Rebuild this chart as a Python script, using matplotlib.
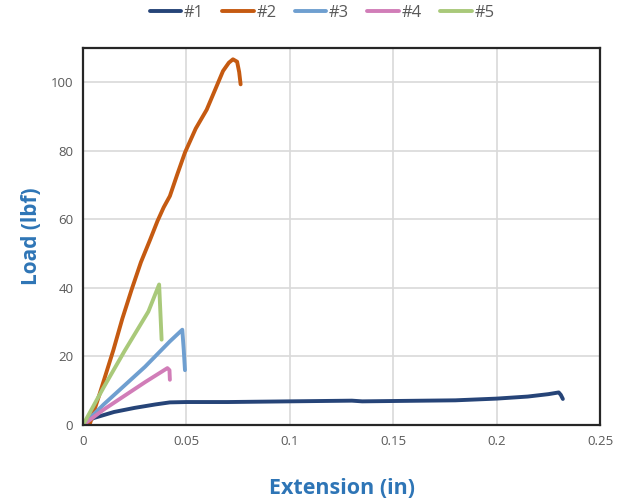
import matplotlib
matplotlib.use("Agg")
import matplotlib.pyplot as plt

names = ["#1", "#2", "#3", "#4", "#5"]
colors = ["#264478", "#C55A11", "#6F9FD0", "#D17DB8", "#A9C97A"]

x1 = [0.0, 0.005, 0.015, 0.025, 0.035, 0.042, 0.05, 0.07, 0.1, 0.13, 0.135, 0.15, 0.18, 0.2, 0.215, 0.225, 0.23, 0.231, 0.232]
y1 = [0.0, 2.0, 3.8, 5.0, 6.0, 6.6, 6.7, 6.7, 6.9, 7.1, 6.9, 7.0, 7.2, 7.7, 8.3, 9.0, 9.5, 8.8, 7.6]

x2 = [0.002, 0.0034, 0.008, 0.0147, 0.019, 0.0235, 0.028, 0.0324, 0.036, 0.039, 0.042, 0.0455, 0.0493, 0.0545, 0.0598, 0.064, 0.0677, 0.0705, 0.0725, 0.0745, 0.0755, 0.0762]
y2 = [0.0, 0.5, 9.0, 21.9, 31.0, 39.5, 47.5, 54.0, 59.5, 63.5, 66.8, 73.0, 79.5, 86.5, 92.0, 98.0, 103.3, 105.7, 106.7, 106.0, 103.0, 99.4]

x3 = [0.0, 0.01, 0.02, 0.03, 0.042, 0.048, 0.0487, 0.0493]
y3 = [0.0, 6.0, 11.5, 17.0, 24.4, 27.8, 22.0, 16.0]

x4 = [0.0, 0.01, 0.02, 0.03, 0.0408, 0.0418, 0.042]
y4 = [0.0, 4.5, 8.5, 12.5, 16.6, 16.0, 13.2]

x5 = [0.0, 0.01, 0.02, 0.0316, 0.0368, 0.0374, 0.038]
y5 = [0.0, 11.0, 21.5, 33.1, 41.0, 33.0, 24.9]

xs = [x1, x2, x3, x4, x5]
ys = [y1, y2, y3, y4, y5]

xticks = [0, 0.05, 0.1, 0.15, 0.2, 0.25]
xticklabels = ["0", "0.05", "0.1", "0.15", "0.2", "0.25"]
yticks = [0, 20, 40, 60, 80, 100]

plt.rcParams['font.family'] = ['Open Sans', 'DejaVu Sans']

fig = plt.figure(figsize=(6.26, 5.0), dpi=100)
ax = fig.add_axes([0.1326, 0.15, 0.826, 0.754])

for x, y, c, n in zip(xs, ys, colors, names):
    ax.plot(x, y, color=c, lw=2.8, label=n, solid_capstyle='round', solid_joinstyle='round')

ax.set_xlim(0, 0.25)
ax.set_ylim(0, 110)
ax.set_xticks(xticks)
ax.set_xticklabels(xticklabels)
ax.set_yticks(yticks)
ax.grid(True, color="#D9D9D9", lw=1.2)
ax.set_axisbelow(True)
for s in ax.spines.values():
    s.set_color("#262626")
    s.set_linewidth(1.6)
ax.tick_params(length=0, labelsize=9.5, labelcolor="#595959", pad=7)

ax.set_xlabel("Extension (in)", fontsize=15.5, fontweight='bold', color="#2E75B6", labelpad=22)
ax.set_ylabel("Load (lbf)", fontsize=15, fontweight='bold', color="#2E75B6", labelpad=6)

ax.legend(loc='lower center', bbox_to_anchor=(0.462, 1.055), ncol=5, frameon=False,
          fontsize=12, labelcolor="#595959", handlelength=1.9, handletextpad=0.15,
          columnspacing=1.1, borderaxespad=0)

fig.savefig("out.png", dpi=100)
